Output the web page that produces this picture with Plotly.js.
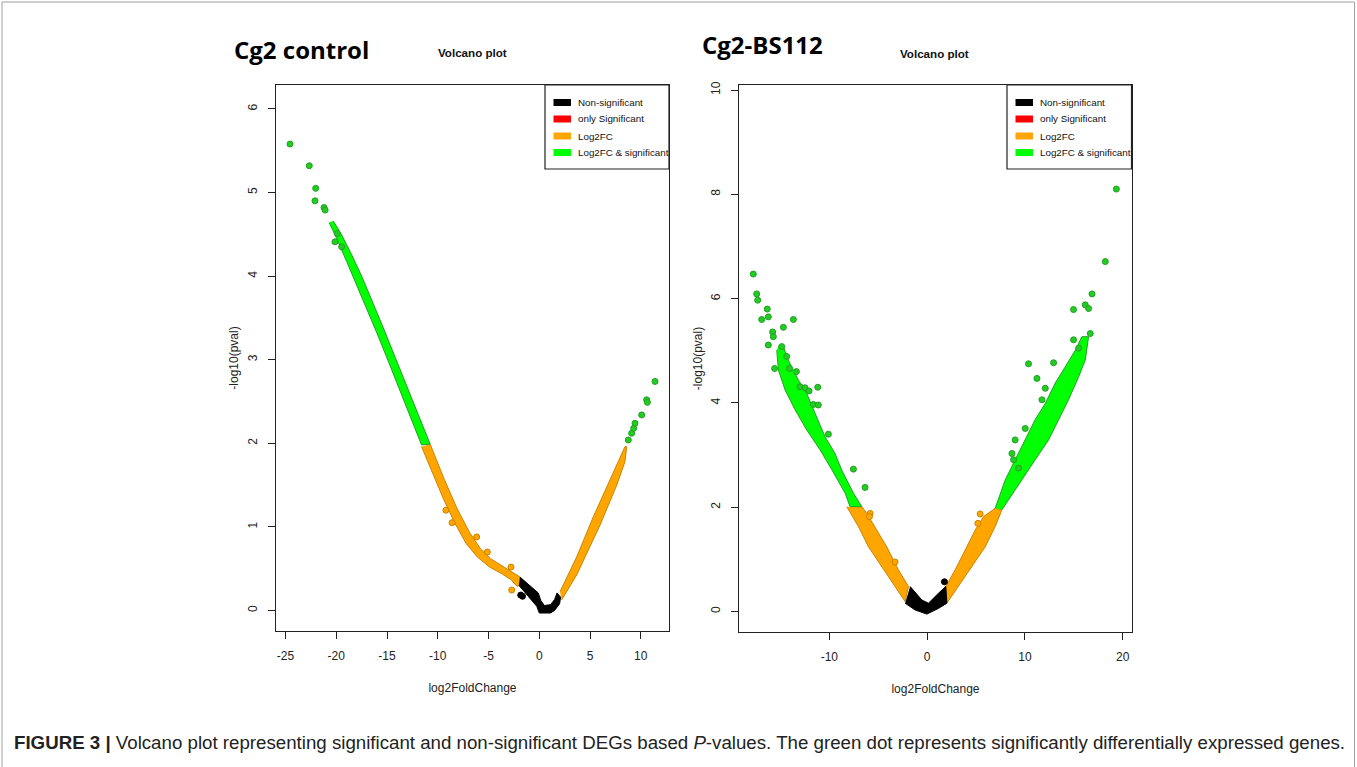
<!DOCTYPE html>
<html>
<head>
<meta charset="utf-8">
<script src="https://cdn.plot.ly/plotly-3.0.1.min.js"></script>
<style>
  html, body { margin: 0; padding: 0; background: #ffffff; }
  #chart { width: 1357px; height: 767px; }
</style>
</head>
<body>
<div id="chart"></div>
<script>
// ---------------- DATA ----------------
const legendLabels = ['Non-significant', 'only Significant', 'Log2FC', 'Log2FC & significant'];

const ctrlXTicks = [-25, -20, -15, -10, -5, 0, 5, 10];
const ctrlYTicks = [0, 1, 2, 3, 4, 5, 6];
const bsXTicks = [-10, 0, 10, 20];
const bsYTicks = [0, 2, 4, 6, 8, 10];

// Cg2 control: dense bands (outline of the point cloud), then isolated points
const ctrlGreenBandX = [-20.7, -20.0, -19.0, -18.0, -17.0, -16.0, -15.0, -14.0, -13.0, -12.0, -11.6,
                        -10.75, -11.5, -12.5, -13.5, -14.5, -15.5, -16.5, -17.5, -18.5, -19.5, -20.3];
const ctrlGreenBandY = [4.64, 4.46, 4.18, 3.90, 3.60, 3.32, 3.02, 2.72, 2.42, 2.12, 1.98,
                        1.99, 2.22, 2.52, 2.83, 3.12, 3.42, 3.72, 4.00, 4.26, 4.50, 4.66];
const ctrlOrangeLeftX = [-11.6, -10.6, -9.46, -8.3, -7.2, -6.1, -4.9, -3.7, -2.8, -2.2, -1.95,
                         -1.9, -2.8, -3.7, -4.8, -5.8, -6.9, -8.1, -9.4, -10.75];
const ctrlOrangeLeftY = [1.96, 1.68, 1.34, 1.04, 0.80, 0.64, 0.52, 0.44, 0.37, 0.29, 0.30,
                         0.40, 0.47, 0.54, 0.62, 0.74, 0.94, 1.22, 1.58, 1.99];
const ctrlOrangeRightX = [2.2, 3.68, 5.98, 7.63, 8.44, 8.61, 8.44, 6.97, 5.32, 3.68, 2.04];
const ctrlOrangeRightY = [0.126, 0.425, 1.02, 1.50, 1.78, 1.96, 1.96, 1.56, 1.12, 0.64, 0.225];
const ctrlBlackX = [-1.9, -1.2, -0.6, -0.1, 0.15, 0.5, 1.1, 1.5, 1.75, 2.1, 2.0, 1.5, 1.1, 0.0, -0.25, -0.8, -1.4, -2.0];
const ctrlBlackY = [0.40, 0.33, 0.27, 0.21, 0.12, 0.06, 0.07, 0.13, 0.21, 0.16, 0.08, 0.0, -0.03, -0.03, 0.05, 0.13, 0.21, 0.30];

const ctrlGreenPtsX = [-24.56, -22.66, -22.03, -22.1, -21.21, -21.1, -19.9, -20.13, -19.47,
                       8.77, 9.1, 9.3, 9.43, 10.09, 10.58, 10.65, 11.4];
const ctrlGreenPtsY = [5.58, 5.32, 5.05, 4.90, 4.82, 4.79, 4.51, 4.41, 4.35,
                       2.04, 2.12, 2.18, 2.24, 2.34, 2.52, 2.49, 2.74];
const ctrlOrangePtsX = [-6.17, -5.12, -2.79, -2.72, -9.2, -8.6];
const ctrlOrangePtsY = [0.88, 0.70, 0.52, 0.245, 1.20, 1.05];
const ctrlBlackPtsX = [-1.83, -1.65];
const ctrlBlackPtsY = [0.185, 0.17];

// Cg2-BS112
const bsGreenLeftX = [-15.38, -15.21, -14.53, -13.51, -12.31, -10.95, -9.75, -8.39, -7.88,
                      -6.68, -7.54, -8.73, -9.42, -10.44, -11.46, -12.31, -13.17, -14.2, -14.7, -15.21];
const bsGreenLeftY = [5.01, 4.63, 4.25, 3.87, 3.48, 3.10, 2.72, 2.27, 2.01,
                      2.01, 2.27, 2.71, 3.03, 3.35, 3.80, 4.18, 4.44, 4.82, 5.08, 5.08];
const bsOrangeLeftX = [-8.22, -7.03, -6.0, -4.64, -3.28, -2.25, -1.91, -2.94, -4.13, -5.15, -6.17, -6.68];
const bsOrangeLeftY = [2.01, 1.63, 1.24, 0.86, 0.48, 0.19, 0.48, 0.80, 1.24, 1.56, 1.88, 2.01];
const bsBlackX = [-2.25, -1.23, -0.03, 1.16, 2.02, 1.91, 1.16, 0.14, -0.54, -1.74];
const bsBlackY = [0.16, 0.03, -0.05, 0.06, 0.16, 0.48, 0.35, 0.16, 0.22, 0.48];
const bsOrangeRightX = [1.91, 2.87, 3.89, 4.91, 5.77, 6.96, 7.65, 6.96, 5.94, 4.58, 3.21, 2.18, 2.02];
const bsOrangeRightY = [0.48, 0.80, 1.18, 1.56, 1.82, 1.98, 1.95, 1.63, 1.24, 0.86, 0.48, 0.19, 0.16];
const bsGreenRightX = [6.96, 7.98, 9.0, 10.03, 11.05, 12.08, 13.1, 14.12, 15.15, 15.83,
                       16.51, 16.17, 15.49, 14.46, 13.44, 12.42, 11.05, 9.69, 8.32, 7.65];
const bsGreenRightY = [1.98, 2.52, 2.91, 3.29, 3.68, 3.99, 4.38, 4.69, 5.01, 5.27,
                       5.27, 4.82, 4.50, 4.06, 3.67, 3.29, 2.91, 2.52, 2.14, 1.95];

const bsGreenPtsX = [-17.78, -17.43, -17.33, -16.35, -16.24, -16.92, -13.68, -14.7, -15.8, -15.73,
                     -16.24, -14.87, -14.36, -15.6, -14.07, -13.37, -13.0, -12.49, -12.08, -11.19,
                     -11.64, -11.13, -10.1, -7.54, -6.35,
                     19.35, 18.22, 16.86, 16.17, 16.51, 14.97, 16.68, 14.97, 15.49, 10.37,
                     12.93, 11.23, 12.08, 11.74, 10.03, 9.0, 8.67, 8.84, 9.35];
const bsGreenPtsY = [6.47, 6.09, 5.97, 5.80, 5.65, 5.60, 5.60, 5.45, 5.36, 5.27,
                     5.11, 5.08, 4.89, 4.66, 4.66, 4.60, 4.31, 4.29, 4.23, 4.30,
                     3.97, 3.96, 3.40, 2.73, 2.38,
                     8.10, 6.71, 6.09, 5.88, 5.81, 5.79, 5.33, 5.21, 5.05, 4.75,
                     4.77, 4.47, 4.28, 4.06, 3.51, 3.29, 3.03, 2.91, 2.75];
const bsOrangePtsX = [-5.83, -5.9, -3.28, 5.42, 5.19];
const bsOrangePtsY = [1.88, 1.82, 0.95, 1.87, 1.69];
const bsBlackPtsX = [1.77];
const bsBlackPtsY = [0.57];

// ---------------- STYLE ----------------
const W = 1357, H = 767;
const P = px => px / W;
const Q = py => 1 - py / H;
const SANS = '"Liberation Sans", Arial, sans-serif';
const COL = {
  black: '#000000', red: '#ff0000', orange: '#ffa500', green: '#00ff00',
  blackEdge: '#000000', orangeEdge: '#c98400', greenEdge: '#22a022'
};
const legendSwatch = [COL.black, COL.red, COL.orange, COL.green];

function band(x, y, fill, edge, xa, ya) {
  return { type: 'scatter', mode: 'lines', x: x, y: y, fill: 'toself', fillcolor: fill,
           line: { color: edge, width: 1 }, xaxis: xa, yaxis: ya, hoverinfo: 'skip', showlegend: false };
}
function pts(x, y, fill, edge, xa, ya) {
  return { type: 'scatter', mode: 'markers', x: x, y: y,
           marker: { size: 6, color: fill, line: { color: edge, width: 1 } },
           xaxis: xa, yaxis: ya, hoverinfo: 'skip', showlegend: false };
}

const data = [
  band(ctrlOrangeLeftX, ctrlOrangeLeftY, COL.orange, COL.orangeEdge, 'x', 'y'),
  band(ctrlOrangeRightX, ctrlOrangeRightY, COL.orange, COL.orangeEdge, 'x', 'y'),
  band(ctrlBlackX, ctrlBlackY, COL.black, COL.blackEdge, 'x', 'y'),
  band(ctrlGreenBandX, ctrlGreenBandY, COL.green, COL.greenEdge, 'x', 'y'),
  pts(ctrlOrangePtsX, ctrlOrangePtsY, COL.orange, COL.orangeEdge, 'x', 'y'),
  pts(ctrlBlackPtsX, ctrlBlackPtsY, COL.black, COL.blackEdge, 'x', 'y'),
  pts(ctrlGreenPtsX, ctrlGreenPtsY, '#22cc22', COL.greenEdge, 'x', 'y'),

  band(bsOrangeLeftX, bsOrangeLeftY, COL.orange, COL.orangeEdge, 'x2', 'y2'),
  band(bsOrangeRightX, bsOrangeRightY, COL.orange, COL.orangeEdge, 'x2', 'y2'),
  band(bsBlackX, bsBlackY, COL.black, COL.blackEdge, 'x2', 'y2'),
  band(bsGreenLeftX, bsGreenLeftY, COL.green, COL.greenEdge, 'x2', 'y2'),
  band(bsGreenRightX, bsGreenRightY, COL.green, COL.greenEdge, 'x2', 'y2'),
  pts(bsOrangePtsX, bsOrangePtsY, COL.orange, COL.orangeEdge, 'x2', 'y2'),
  pts(bsBlackPtsX, bsBlackPtsY, COL.black, COL.blackEdge, 'x2', 'y2'),
  pts(bsGreenPtsX, bsGreenPtsY, '#22cc22', COL.greenEdge, 'x2', 'y2')
];

function xAxis(domain, range, ticks, anchor) {
  return {
    domain: domain, range: range, anchor: anchor, tickmode: 'array', tickvals: ticks,
    ticktext: ticks.map(String), ticks: 'outside', ticklen: 7, tickwidth: 1, tickcolor: '#222',
    showline: true, mirror: true, linecolor: '#222', linewidth: 1.2, showgrid: false, zeroline: false,
    tickfont: { family: SANS, size: 12, color: '#222' }, ticklabelstandoff: 6,
    title: { text: 'log2FoldChange', font: { family: SANS, size: 12, color: '#222' }, standoff: 22 }
  };
}
function yAxis(domain, range, ticks, anchor, standoff) {
  return {
    domain: domain, range: range, anchor: anchor, tickmode: 'array', tickvals: ticks,
    ticktext: ticks.map(String), ticks: 'outside', ticklen: 7, tickwidth: 1, tickcolor: '#222',
    showline: true, mirror: true, linecolor: '#222', linewidth: 1.2, showgrid: false, zeroline: false,
    tickangle: -90, tickfont: { family: SANS, size: 12, color: '#222' }, ticklabelstandoff: 6,
    title: { text: '-log10(pval)', font: { family: SANS, size: 12, color: '#222' }, standoff: standoff }
  };
}

const shapes = [
  { type: 'path', xref: 'paper', yref: 'paper',
    path: 'M ' + P(2) + ',' + Q(770) + ' L ' + P(2) + ',' + Q(2) + ' L ' + P(1354.5) + ',' + Q(2) + ' L ' + P(1354.5) + ',' + Q(770),
    line: { color: '#a0a0a0', width: 1 } }
];
const annotations = [];

function legendBox(x0, x1) {
  shapes.push({ type: 'rect', xref: 'paper', yref: 'paper', x0: P(x0), x1: P(x1), y0: Q(169), y1: Q(85),
                line: { color: '#222', width: 1.2 }, fillcolor: '#ffffff' });
  const rows = [102.5, 119, 136, 152.5];
  legendLabels.forEach((lab, i) => {
    shapes.push({ type: 'rect', xref: 'paper', yref: 'paper',
                  x0: P(x0 + 8.5), x1: P(x0 + 26), y0: Q(rows[i] + 3.5), y1: Q(rows[i] - 3.5),
                  line: { width: 0 }, fillcolor: legendSwatch[i] });
    annotations.push({ xref: 'paper', yref: 'paper', x: P(x0 + 31), y: Q(rows[i]),
                       xanchor: 'left', yanchor: 'middle', showarrow: false, text: lab,
                       font: { family: SANS, size: 9.8, color: '#111' } });
  });
}
legendBox(545, 669);
legendBox(1007, 1131.5);

annotations.push(
  { xref: 'paper', yref: 'paper', x: P(301.5), y: Q(49), xanchor: 'center', yanchor: 'middle', showarrow: false,
    text: '<b>Cg2 control</b>', font: { family: '"Open Sans", "Noto Sans", sans-serif', size: 24, color: '#000' } },
  { xref: 'paper', yref: 'paper', x: P(472), y: Q(52), xanchor: 'center', yanchor: 'middle', showarrow: false,
    text: '<b>Volcano plot</b>', font: { family: SANS, size: 11.6, color: '#111' } },
  { xref: 'paper', yref: 'paper', x: P(763), y: Q(44), xanchor: 'center', yanchor: 'middle', showarrow: false,
    text: '<b>Cg2-BS112</b>', font: { family: '"Open Sans", "Noto Sans", sans-serif', size: 24, color: '#000' } },
  { xref: 'paper', yref: 'paper', x: P(934), y: Q(53), xanchor: 'center', yanchor: 'middle', showarrow: false,
    text: '<b>Volcano plot</b>', font: { family: SANS, size: 11.6, color: '#111' } },
  { xref: 'paper', yref: 'paper', x: P(12), y: Q(742), xanchor: 'left', yanchor: 'middle', showarrow: false,
    text: '<b>FIGURE 3 |</b> Volcano plot representing significant and non-significant DEGs based <i>P</i>-values. The green dot represents significantly differentially expressed genes.',
    font: { family: SANS, size: 18.7, color: '#222' } }
);

const layout = {
  width: W, height: H, autosize: false,
  margin: { l: 0, r: 0, t: 0, b: 0 },
  paper_bgcolor: '#ffffff', plot_bgcolor: '#ffffff',
  showlegend: false,
  xaxis: xAxis([P(276), P(669)], [-25.94, 12.78], ctrlXTicks, 'y'),
  yaxis: yAxis([Q(631), Q(85)], [-0.245, 6.286], ctrlYTicks, 'x', 4),
  xaxis2: xAxis([P(739), P(1132)], [-19.24, 20.95], bsXTicks, 'y2'),
  yaxis2: yAxis([Q(632), Q(85)], [-0.393, 10.096], bsYTicks, 'x2', 3),
  shapes: shapes,
  annotations: annotations
};

Plotly.newPlot('chart', data, layout, { displayModeBar: false, staticPlot: true });
</script>
</body>
</html>
